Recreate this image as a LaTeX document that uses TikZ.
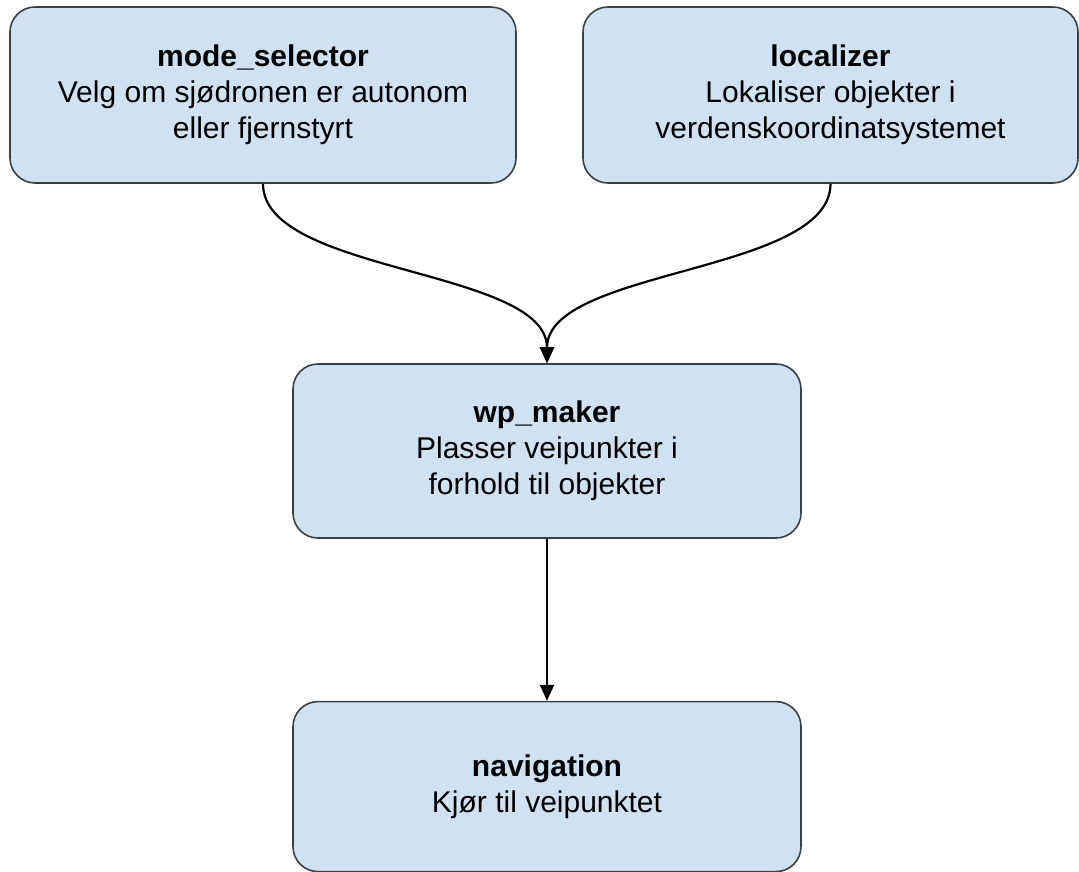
\documentclass[tikz,border=0pt]{standalone}
\usepackage{fontspec}
\setmainfont{Liberation Sans}
\usetikzlibrary{positioning, arrows.meta}
\definecolor{boxfill}{HTML}{CFE2F3}
\definecolor{boxline}{HTML}{3C4043}
\begin{document}
\begin{tikzpicture}[
    x = 1pt, y = -1pt,
    box/.style = {draw = boxline, fill = boxfill, rounded corners = 25pt, line width = 1.6pt,
                  inner sep = 0pt, align = center, font = \fontsize{30}{36}\selectfont},
    flow/.style = {line width = 2.2pt, -{Triangle[length = 16pt, width = 14pt]}}
]
\useasboundingbox (0,0) rectangle (1079,872);
\node[box, minimum width = 506pt, minimum height = 176pt] (mode) at (263,95) {\textbf{mode\_selector}\\Velg om sjødronen er autonom\\eller fjernstyrt};
\node[box, minimum width = 495pt, minimum height = 176pt] (loc) at (830.5,95) {\textbf{localizer}\\Lokaliser objekter i\\verdenskoordinatsystemet};
\node[box, minimum width = 508pt, minimum height = 174pt] (wp) at (547,451) {\textbf{wp\_maker}\\Plasser veipunkter i\\forhold til objekter};
\node[box, minimum width = 508pt, minimum height = 170pt] (nav) [below = 162pt of wp] {\textbf{navigation}\\Kjør til veipunktet};
% arrows
\draw[flow] (mode.south) .. controls +(0,90) and +(0,-95) .. (wp.north);
\draw[flow] (loc.south) .. controls +(0,90) and +(0,-95) .. (wp.north);
\draw[flow] (wp) -- (nav);
\end{tikzpicture}
\end{document}
